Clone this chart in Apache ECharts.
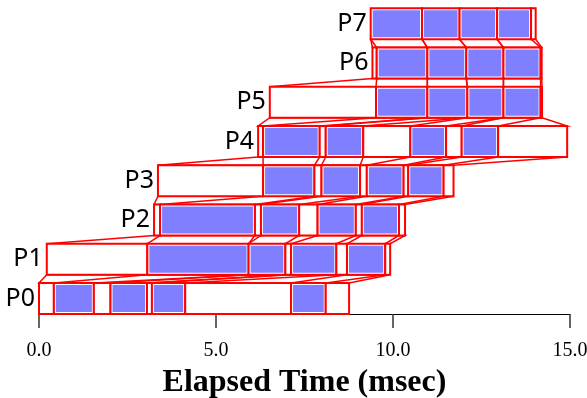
<!DOCTYPE html>
<html>
<head>
<meta charset="utf-8">
<script src="https://cdn.jsdelivr.net/npm/echarts@6/dist/echarts.min.js"></script>
<style>
html,body{margin:0;padding:0;background:#fff;}
#main{width:587px;height:398px;}
</style>
</head>
<body>
<div id="main"></div>
<script>
// one row per process, each state is [start, end, busy]
var rowLabels = ['P0', 'P1', 'P2', 'P3', 'P4', 'P5', 'P6', 'P7'];
var p0 = [[0.00,0.42,0],[0.42,1.55,1],[1.55,2.02,0],[2.02,3.05,1],[3.05,3.19,0],[3.19,4.13,1],[4.13,7.12,0],[7.12,8.10,1],[8.10,8.76,0]];
var p1 = [[0.22,3.06,0],[3.06,5.92,1],[5.92,6.96,1],[6.96,7.12,0],[7.12,8.40,1],[8.40,8.70,0],[8.70,9.78,1],[9.78,9.92,0]];
var p2 = [[3.25,3.42,0],[3.42,6.10,1],[6.10,6.27,0],[6.27,7.35,1],[7.35,7.87,0],[7.87,8.95,1],[8.95,9.12,0],[9.12,10.17,1],[10.17,10.34,0]];
var p3 = [[3.36,6.33,0],[6.33,7.78,1],[7.78,7.98,0],[7.98,9.07,1],[9.07,9.26,0],[9.26,10.30,1],[10.30,10.43,0],[10.43,11.43,1],[11.43,11.71,0]];
var p4 = [[6.19,6.33,0],[6.33,7.93,1],[7.93,8.10,0],[8.10,9.16,1],[9.16,10.49,0],[10.49,11.50,1],[11.50,11.94,0],[11.94,12.97,1],[12.97,14.92,0]];
var p5 = [[6.52,9.52,0],[9.52,10.97,1],[10.97,12.10,1],[12.10,13.12,1],[13.12,14.17,1],[14.17,14.21,0]];
var p6 = [[9.42,9.54,0],[9.54,10.97,1],[10.97,12.07,1],[12.07,13.12,1],[13.12,14.17,1],[14.17,14.20,0]];
var p7 = [[9.37,10.82,1],[10.82,11.88,1],[11.88,12.94,1],[12.94,13.90,1],[13.90,14.03,0]];
var xTicks = [0, 5, 10, 15];

var rows = [p0, p1, p2, p3, p4, p5, p6, p7];
var boxH = 0.79;   // front face height in row units
var red = '#ff0000';
var blue = '#7f7fff';

// front faces
var rectData = [];
for (var i = 0; i < rows.length; i++) {
	for (var j = 0; j < rows[i].length; j++) {
		rectData.push([rows[i][j][0], rows[i][j][1], i, rows[i][j][2]]);
	}
}

// top faces: outline to the next row, and busy state k to busy state k
var faceData = [];
for (var i = 0; i < rows.length - 1; i++) {
	var a = rows[i], b = rows[i + 1];
	faceData.push([a[0][0], a[a.length - 1][1], b[0][0], b[b.length - 1][1], i]);
	var busyA = a.filter(function(s){ return s[2] == 1; });
	var busyB = b.filter(function(s){ return s[2] == 1; });
	for (var k = 0; k < Math.min(busyA.length, busyB.length); k++) {
		faceData.push([busyA[k][0], busyA[k][1], busyB[k][0], busyB[k][1], i]);
	}
}

var labelData = rows.map(function(r, i){ return [r[0][0], i]; });

var myChart = echarts.init(document.getElementById('main'));
var option = {
	animation: false,
	grid: { left: 39, right: 17, top: 0, bottom: 84, containLabel: false, outerBoundsMode: 'none' },
	xAxis: {
		type: 'value',
		min: 0,
		max: 15,
		interval: 5,
		name: 'Elapsed Time (msec)',
		nameLocation: 'middle',
		nameGap: 53,
		nameTextStyle: { fontFamily: 'Liberation Serif', fontWeight: 'bold', fontSize: 32, color: '#000' },
		axisLine: { lineStyle: { color: '#000', width: 1 } },
		axisTick: { length: 14, lineStyle: { color: '#333', width: 1.5 } },
		axisLabel: {
			margin: 27,
			fontFamily: 'Liberation Serif',
			fontSize: 20,
			color: '#000',
			formatter: function(v){ return xTicks.indexOf(v) >= 0 ? v.toFixed(1) : ''; }
		},
		splitLine: { show: false }
	},
	yAxis: { type: 'value', min: 0, max: 8, show: false },
	series: [
		{
			type: 'custom',
			clip: false,
			data: faceData,
			renderItem: function(params, api) {
				var row = api.value(4);
				var pts = [
					api.coord([api.value(0), row + boxH]),
					api.coord([api.value(1), row + boxH]),
					api.coord([api.value(3), row + 1]),
					api.coord([api.value(2), row + 1])
				];
				return {
					type: 'polygon',
					shape: { points: pts },
					style: { fill: 'none', stroke: red, lineWidth: 1.5 }
				};
			}
		},
		{
			type: 'custom',
			clip: false,
			data: rectData,
			renderItem: function(params, api) {
				var row = api.value(2);
				var p1 = api.coord([api.value(0), row + boxH]);
				var p2 = api.coord([api.value(1), row]);
				var w = p2[0] - p1[0], h = p2[1] - p1[1];
				var kids = [{
					type: 'rect',
					shape: { x: p1[0], y: p1[1], width: w, height: h },
					style: { fill: '#fff', stroke: red, lineWidth: 2 }
				}];
				if (api.value(3) == 1) {
					kids.push({
						type: 'rect',
						shape: { x: p1[0] + 2, y: p1[1] + 2, width: Math.max(w - 4, 0), height: h - 4 },
						style: { fill: blue }
					});
				}
				return { type: 'group', children: kids };
			}
		},
		{
			type: 'custom',
			clip: false,
			data: labelData,
			renderItem: function(params, api) {
				var pt = api.coord([api.value(0), api.value(1) + boxH / 2]);
				return {
					type: 'text',
					x: pt[0] - 4,
					y: pt[1],
					style: {
						text: rowLabels[params.dataIndex],
						align: 'right',
						verticalAlign: 'middle',
						font: '25px "Noto Sans"',
						fill: '#000'
					}
				};
			}
		}
	]
};
myChart.setOption(option);
</script>
</body>
</html>
